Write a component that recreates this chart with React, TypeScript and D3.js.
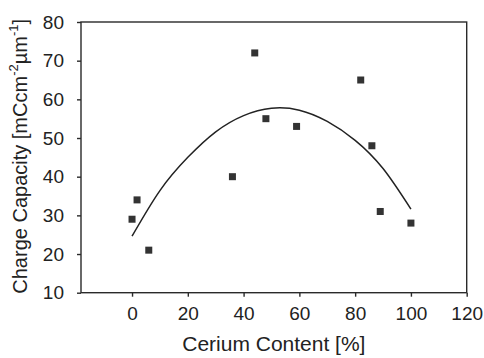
import React, { useEffect, useRef } from "react";
import * as d3 from "d3";

// measured points (cerium %, charge capacity)
const ceriumContent = [0, 1.8, 6, 36, 44, 48, 59, 82, 86, 89, 100];
const chargeCapacity = [29, 34, 21, 40, 72, 55, 53, 65, 48, 31, 28];

// fitted trend curve
const fitX = [0, 10, 20, 30, 40, 50, 60, 70, 80, 90, 100];
const fitY = [24.6, 36.4, 45.0, 51.6, 55.8, 57.7, 57.2, 54.3, 49.4, 42.1, 31.6];

const xTicks = [0, 20, 40, 60, 80, 100, 120];
const yTicks = [10, 20, 30, 40, 50, 60, 70, 80];

const W = 484;
const H = 358;
const FONT = "'Liberation Sans', Arial, Helvetica, sans-serif";

export default function App() {
  const ref = useRef<SVGSVGElement>(null);

  useEffect(() => {
    const svg = d3.select(ref.current);
    svg.selectAll("*").remove();

    const left = 81,
      right = 466.7,
      top = 22,
      bottom = 292.7;

    const x = d3.scaleLinear().domain([-18.3, 120]).range([left, right]);
    const y = d3.scaleLinear().domain([10, 80]).range([bottom, top]);

    svg
      .append("rect")
      .attr("width", W)
      .attr("height", H)
      .attr("fill", "#fff");

    // frame
    svg
      .append("rect")
      .attr("x", left)
      .attr("y", top)
      .attr("width", right - left)
      .attr("height", bottom - top)
      .attr("fill", "none")
      .attr("stroke", "#2a2a2a")
      .attr("stroke-width", 1.4);

    const xAxis = svg
      .append("g")
      .attr("transform", `translate(0,${bottom})`)
      .call(
        d3.axisBottom(x).tickValues(xTicks).tickSize(4).tickPadding(10).tickSizeOuter(0)
      );
    const yAxis = svg
      .append("g")
      .attr("transform", `translate(${left},0)`)
      .call(
        d3.axisLeft(y).tickValues(yTicks).tickSize(4).tickPadding(13).tickSizeOuter(0)
      );

    [xAxis, yAxis].forEach((a) => {
      a.select(".domain").remove();
      a.selectAll("line").attr("stroke", "#2a2a2a").attr("stroke-width", 1.4);
      a.selectAll("text")
        .attr("fill", "#222")
        .style("font-family", FONT)
        .style("font-size", "19px");
    });

    // trend curve
    const line = d3
      .line<number>()
      .x((_, i) => x(fitX[i]))
      .y((d) => y(d))
      .curve(d3.curveNatural);

    svg
      .append("path")
      .attr("d", line(fitY))
      .attr("fill", "none")
      .attr("stroke", "#222")
      .attr("stroke-width", 1.5);

    // markers
    const s = 7;
    svg
      .selectAll(".pt")
      .data(ceriumContent)
      .enter()
      .append("rect")
      .attr("class", "pt")
      .attr("x", (d) => x(d) - s / 2)
      .attr("y", (_, i) => y(chargeCapacity[i]) - s / 2)
      .attr("width", s)
      .attr("height", s)
      .attr("fill", "#333");

    // axis titles
    svg
      .append("text")
      .attr("x", (left + right) / 2)
      .attr("y", 351)
      .attr("text-anchor", "middle")
      .attr("fill", "#222")
      .style("font-family", FONT)
      .style("font-size", "21px")
      .text("Cerium Content [%]");

    const yt = svg
      .append("text")
      .attr("transform", `translate(27,${(top + bottom) / 2 - 1}) rotate(-90)`)
      .attr("text-anchor", "middle")
      .attr("fill", "#222")
      .style("font-family", FONT)
      .style("font-size", "20px");
    yt.append("tspan").text("Charge Capacity [mCcm");
    yt.append("tspan").attr("dy", -9).style("font-size", "13px").text("-2");
    yt.append("tspan").attr("dy", 9).text("µm");
    yt.append("tspan").attr("dy", -9).style("font-size", "13px").text("-1");
    yt.append("tspan").attr("dy", 9).text("]");
  }, []);

  return (
    <svg
      ref={ref}
      width={W}
      height={H}
      style={{ position: "absolute", left: 0, top: 0, display: "block" }}
    />
  );
}
